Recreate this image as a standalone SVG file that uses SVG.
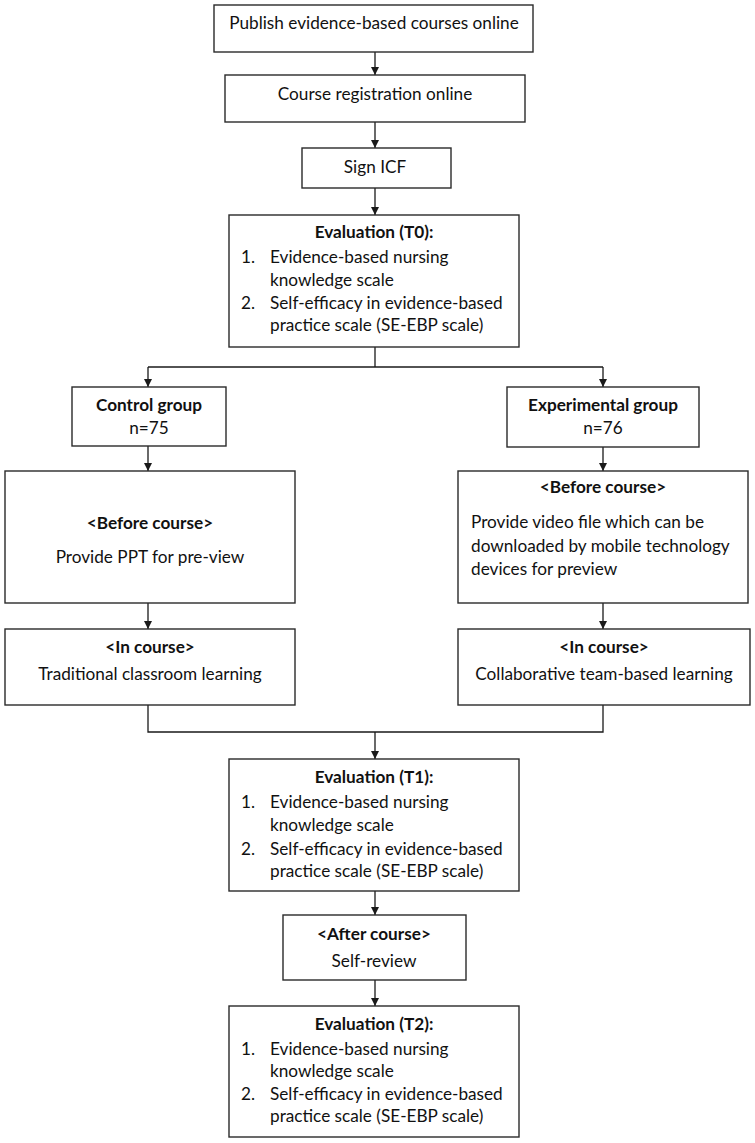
<svg xmlns="http://www.w3.org/2000/svg" width="755" height="1143" viewBox="0 0 755 1143">
<defs>
<marker id="ah" viewBox="0 0 10 10" refX="10" refY="5" markerWidth="8" markerHeight="8" markerUnits="userSpaceOnUse" orient="auto">
<path d="M0,0 L10,5 L0,10 Z" fill="#1a1a1a"/>
</marker>
<style>
.box{fill:#fff;stroke:#2a2a2a;stroke-width:1.4}
.ln{fill:none;stroke:#1a1a1a;stroke-width:1.3}
text{font-family:Lato,"Liberation Sans",sans-serif;font-size:17.2px;fill:#111}
.c{text-anchor:middle}
.b{font-weight:bold}
</style>
</defs>
<rect width="755" height="1143" fill="#fff"/>
<g id="connectors">
<line class="ln" x1="375" y1="52" x2="375" y2="75" marker-end="url(#ah)"/>
<line class="ln" x1="375" y1="122" x2="375" y2="148" marker-end="url(#ah)"/>
<line class="ln" x1="375" y1="188" x2="375" y2="215" marker-end="url(#ah)"/>
<polyline class="ln" points="375,347 375,367"/>
<polyline class="ln" points="148,367 603,367"/>
<line class="ln" x1="148" y1="367" x2="148" y2="387" marker-end="url(#ah)"/>
<line class="ln" x1="603" y1="367" x2="603" y2="387" marker-end="url(#ah)"/>
<line class="ln" x1="148" y1="446" x2="148" y2="471" marker-end="url(#ah)"/>
<line class="ln" x1="603" y1="447" x2="603" y2="471" marker-end="url(#ah)"/>
<line class="ln" x1="148" y1="603" x2="148" y2="629" marker-end="url(#ah)"/>
<line class="ln" x1="603" y1="603" x2="603" y2="629" marker-end="url(#ah)"/>
<polyline class="ln" points="148,705 148,732 603,732 603,705"/>
<line class="ln" x1="375" y1="732" x2="375" y2="759" marker-end="url(#ah)"/>
<line class="ln" x1="375" y1="891" x2="375" y2="915" marker-end="url(#ah)"/>
<line class="ln" x1="375" y1="980" x2="375" y2="1006" marker-end="url(#ah)"/>
</g>
<g id="publish">
<rect class="box" x="214" y="5" width="319" height="47"/>
<text class="c" x="374" y="29">Publish evidence-based courses online</text>
</g>
<g id="registration">
<rect class="box" x="225" y="75" width="300" height="47"/>
<text class="c" x="375" y="100">Course registration online</text>
</g>
<g id="sign-icf">
<rect class="box" x="302" y="148" width="149" height="40"/>
<text class="c" x="375" y="173">Sign ICF</text>
</g>
<g id="eval-t0">
<rect class="box" x="229" y="215" width="290" height="132"/>
<text class="c b" x="374" y="238">Evaluation (T0):</text>
<text x="241" y="263">1.</text>
<text x="270" y="263">Evidence-based nursing</text>
<text x="270" y="286">knowledge scale</text>
<text x="241" y="309">2.</text>
<text x="270" y="309">Self-efficacy in evidence-based</text>
<text x="270" y="331">practice scale (SE-EBP scale)</text>
</g>
<g id="control-group">
<rect class="box" x="72" y="387" width="154" height="59"/>
<text class="c b" x="149" y="411">Control group</text>
<text class="c" x="149" y="434">n=75</text>
</g>
<g id="experimental-group">
<rect class="box" x="507" y="387" width="192" height="60"/>
<text class="c b" x="603" y="411">Experimental group</text>
<text class="c" x="603" y="434">n=76</text>
</g>
<g id="control-before">
<rect class="box" x="5" y="471" width="290" height="132"/>
<text class="c b" x="150" y="529">&lt;Before course&gt;</text>
<text class="c" x="150" y="563">Provide PPT for pre-view</text>
</g>
<g id="experimental-before">
<rect class="box" x="458" y="471" width="290" height="132"/>
<text class="c b" x="603" y="493">&lt;Before course&gt;</text>
<text x="471" y="528">Provide video file which can be</text>
<text x="471" y="552">downloaded by mobile technology</text>
<text x="471" y="575">devices for preview</text>
</g>
<g id="control-in">
<rect class="box" x="5" y="629" width="290" height="76"/>
<text class="c b" x="150" y="653">&lt;In course&gt;</text>
<text class="c" x="150" y="680">Traditional classroom learning</text>
</g>
<g id="experimental-in">
<rect class="box" x="458" y="629" width="292" height="76"/>
<text class="c b" x="604" y="653">&lt;In course&gt;</text>
<text class="c" x="604" y="680">Collaborative team-based learning</text>
</g>
<g id="eval-t1">
<rect class="box" x="229" y="759" width="290" height="132"/>
<text class="c b" x="374" y="783">Evaluation (T1):</text>
<text x="241" y="808">1.</text>
<text x="270" y="808">Evidence-based nursing</text>
<text x="270" y="831">knowledge scale</text>
<text x="241" y="855">2.</text>
<text x="270" y="855">Self-efficacy in evidence-based</text>
<text x="270" y="877">practice scale (SE-EBP scale)</text>
</g>
<g id="after-course">
<rect class="box" x="283" y="915" width="183" height="65"/>
<text class="c b" x="374" y="940">&lt;After course&gt;</text>
<text class="c" x="374" y="967">Self-review</text>
</g>
<g id="eval-t2">
<rect class="box" x="229" y="1006" width="290" height="131"/>
<text class="c b" x="374" y="1030">Evaluation (T2):</text>
<text x="241" y="1055">1.</text>
<text x="270" y="1055">Evidence-based nursing</text>
<text x="270" y="1077">knowledge scale</text>
<text x="241" y="1100">2.</text>
<text x="270" y="1100">Self-efficacy in evidence-based</text>
<text x="270" y="1122">practice scale (SE-EBP scale)</text>
</g>
</svg>
